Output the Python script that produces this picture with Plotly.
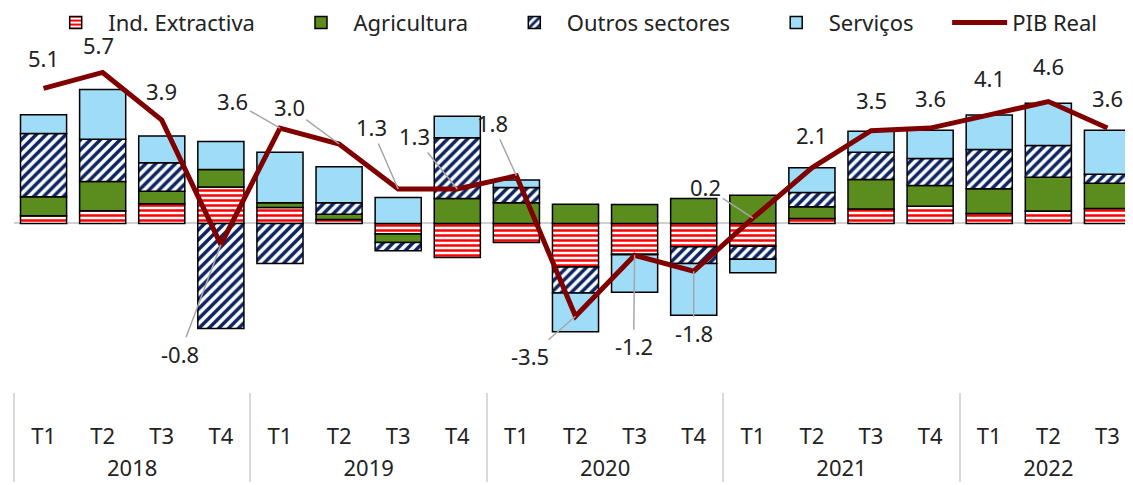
import plotly.graph_objects as go

# categorias (ano, trimestre)
years = ['2018'] * 4 + ['2019'] * 4 + ['2020'] * 4 + ['2021'] * 4 + ['2022'] * 3
quarters = ['T1', 'T2', 'T3', 'T4'] * 4 + ['T1', 'T2', 'T3']

# contributos (p.p.)
ind_extractiva = [0.29, 0.48, 0.74, 1.38, 0.60, 0.15, -0.40, -1.28, -0.72, -1.64,
                  -1.16, -0.88, -0.86, 0.19, 0.55, 0.65, 0.38, 0.47, 0.57]
agricultura = [0.72, 1.10, 0.48, 0.66, 0.18, 0.20, -0.32, 0.94, 0.78, 0.73,
               0.72, 0.94, 1.07, 0.44, 1.11, 0.78, 0.93, 1.27, 0.95]
outros_sectores = [2.39, 1.60, 1.07, -3.96, -1.51, 0.43, -0.31, 2.30, 0.58, -0.98,
                   -0.02, -0.63, -0.49, 0.54, 1.03, 1.02, 1.48, 1.20, 0.34]
servicos = [0.70, 1.88, 1.01, 1.05, 1.91, 1.36, 0.98, 0.81, 0.28, -1.47,
            -1.42, -1.95, -0.51, 0.93, 0.79, 1.07, 1.30, 1.60, 1.66]
pib_real = [5.1, 5.7, 3.9, -0.8, 3.6, 3.0, 1.3, 1.3, 1.8, -3.5,
            -1.2, -1.8, 0.2, 2.1, 3.5, 3.6, 4.1, 4.6, 3.6]

# posição dos rótulos do PIB (deslocamento em px) e se levam linha de chamada
label_ax = [0, -4, 0, -41, -47, -50, -27, -43, -24, -46, -1, 0, -47, 0, 0, 0, 0, 0, 0]
label_ay = [-30, -27, -29, 109, -27, -37, -62, -53, -53, 40, 91, 62, -31, -33, -31, -30, -37, -36, -30]
leader = [False, False, False, True, True, True, True, True, True, True, True, True, True,
          False, False, False, False, False, False]

FONT = 'Noto Sans'
PAD = '\u00a0' * 5  # espaço extra entre entradas da legenda
# linha em branco antes de cada rótulo para afastar as duas filas do eixo
x = [['<br>' + y for y in years], ['<br>' + q for q in quarters]]

fig = go.Figure()


def add_bar(name, values, color, pattern=None):
    marker = dict(color=color, line=dict(color='black', width=1.5))
    if pattern:
        marker['pattern'] = pattern
    fig.add_bar(x=x, y=values, name=name + PAD, marker=marker)


add_bar('Ind. Extractiva', ind_extractiva, 'white',
        dict(shape='-', fgcolor='#FF0000', bgcolor='white', size=5, solidity=0.5, fillmode='replace'))
add_bar('Agricultura', agricultura, '#5A8C1E')
add_bar('Outros sectores', outros_sectores, 'white',
        dict(shape='/', fgcolor='#0B2461', bgcolor='white', size=7, solidity=0.5, fillmode='replace'))
add_bar('Serviços', servicos, '#9FDCF8')

fig.add_scatter(x=x, y=pib_real, mode='lines', name='PIB Real',
                line=dict(color='#800000', width=5))

for i, v in enumerate(pib_real):
    txt = f'{v:.1f}'
    if leader[i]:
        fig.add_annotation(x=i, y=v, text=txt, showarrow=True, ax=label_ax[i], ay=label_ay[i],
                           arrowhead=0, arrowwidth=1.5, arrowcolor='#A6A6A6', standoff=0,
                           font=dict(size=22, color='#222222', family=FONT))
    else:
        fig.add_annotation(x=i, y=v, text=txt, showarrow=False,
                           xshift=label_ax[i], yshift=-label_ay[i],
                           font=dict(size=22, color='#222222', family=FONT))

fig.update_layout(
    width=1133, height=485,
    margin=dict(l=6, r=4, t=30, b=101, autoexpand=False),
    barmode='relative', bargap=0.22,
    plot_bgcolor='white', paper_bgcolor='white',
    font=dict(family=FONT, size=22, color='#222222'),
    showlegend=True,
    legend=dict(orientation='h', x=0.026, y=1.043, yanchor='middle',
                font=dict(size=22), itemwidth=55, traceorder='normal'),
)
fig.update_xaxes(range=[-0.5, 18.5], automargin=False, showline=False, showgrid=False,
                 ticks='', dividercolor='#D9D9D9', dividerwidth=1.5, tickfont=dict(size=22))
fig.update_yaxes(range=[-6.36, 7.0], automargin=False, showticklabels=False, showgrid=False,
                 zeroline=True, zerolinecolor='#D0D0D0', zerolinewidth=2)

fig.write_html('out.html')
